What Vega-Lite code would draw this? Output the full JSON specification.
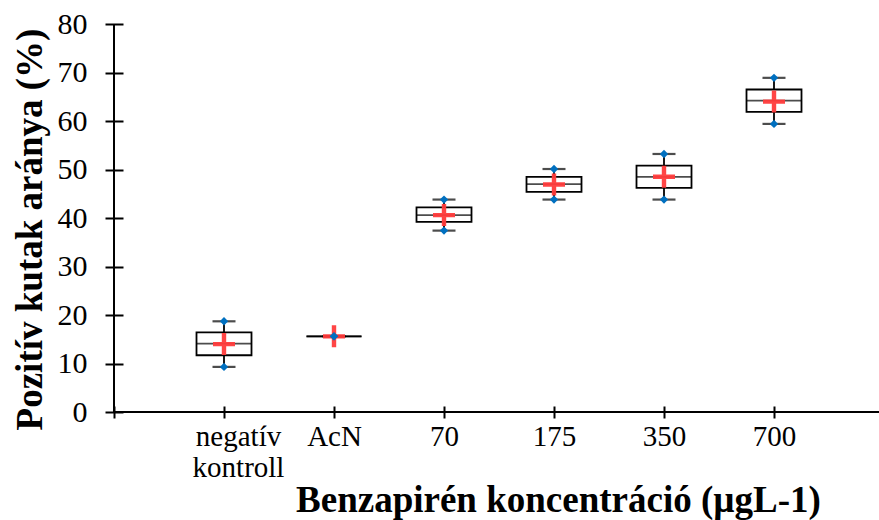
{
  "$schema": "https://vega.github.io/schema/vega-lite/v6.json",
  "width": 765,
  "height": 388,
  "autosize": {"type": "none"},
  "padding": {"left": 114, "top": 24, "right": 0, "bottom": 108},
  "background": "white",
  "config": {"view": {"stroke": null}, "font": "Liberation Serif"},
  "layer": [
    {
      "data": {
        "values": [
          {"cat": "negatív kontroll", "min": 9.3, "q1": 11.7, "median": 14.1, "q3": 16.4, "max": 18.7, "mean": 14.0},
          {"cat": "AcN", "min": 15.6, "q1": 15.6, "median": 15.6, "q3": 15.6, "max": 15.6, "mean": 15.6},
          {"cat": "70", "min": 37.4, "q1": 39.2, "median": 40.6, "q3": 42.2, "max": 43.8, "mean": 40.6},
          {"cat": "175", "min": 43.8, "q1": 45.4, "median": 47.0, "q3": 48.5, "max": 50.1, "mean": 46.9},
          {"cat": "350", "min": 43.8, "q1": 46.2, "median": 48.5, "q3": 50.8, "max": 53.2, "mean": 48.5},
          {"cat": "700", "min": 59.4, "q1": 61.9, "median": 64.2, "q3": 66.5, "max": 68.9, "mean": 64.0}
        ]
      },
      "encoding": {
        "x": {
          "field": "cat",
          "type": "nominal",
          "sort": null,
          "scale": {
            "type": "point",
            "domain": ["", "negatív kontroll", "AcN", "70", "175", "350", "700", " "],
            "range": [0, 770],
            "padding": 0
          },
          "axis": {
            "domain": false,
            "grid": false,
            "offset": -6,
            "tickSize": 12,
            "tickWidth": 2,
            "tickColor": "black",
            "labelAngle": 0,
            "labelFont": "Liberation Serif",
            "labelFontSize": 29,
            "labelColor": "black",
            "labelPadding": 4,
            "labelBaseline": "top",
            "labelLineHeight": 31,
            "labelOverlap": false,
            "labelExpr": "datum.value == 'negatív kontroll' ? ['negatív', 'kontroll'] : datum.label",
            "labelOffset": {"condition": {"test": "datum.value == 'negatív kontroll'", "value": 14}, "value": 0},
            "title": "Benzapirén koncentráció (µgL-1)",
            "titleFont": "Liberation Serif",
            "titleFontSize": 37,
            "titleFontWeight": "bold",
            "titleColor": "black",
            "titleAlign": "center",
            "titleBaseline": "alphabetic",
            "titleX": 444,
            "titleY": 105
          }
        }
      },
      "layer": [
        {
          "mark": {"type": "rule", "color": "black", "strokeWidth": 1.8},
          "encoding": {
            "y": {
              "field": "min",
              "type": "quantitative",
              "scale": {"domain": [0, 80], "nice": false, "zero": true},
              "axis": {
                "values": [0, 10, 20, 30, 40, 50, 60, 70, 80],
                "domain": false,
                "grid": false,
                "offset": -9,
                "tickSize": 18,
                "tickWidth": 2,
                "tickColor": "black",
                "labelFont": "Liberation Serif",
                "labelFontSize": 30,
                "labelColor": "black",
                "labelPadding": 18,
                "title": "Pozitív kutak aránya (%)",
                "titleFont": "Liberation Serif",
                "titleFontSize": 37,
                "titleFontWeight": "bold",
                "titleColor": "black",
                "titleAngle": -90,
                "titleAlign": "center",
                "titleBaseline": "middle",
                "titleX": -93,
                "titleY": 205
              }
            },
            "y2": {"field": "max"}
          }
        },
        {
          "mark": {"type": "bar", "size": 55, "fill": "white", "stroke": "black", "strokeWidth": 1.8},
          "encoding": {"y": {"field": "q1", "type": "quantitative"}, "y2": {"field": "q3"}}
        },
        {
          "mark": {"type": "tick", "size": 55, "thickness": 1.8, "color": "black"},
          "encoding": {"y": {"field": "median", "type": "quantitative"}}
        },
        {
          "mark": {"type": "tick", "size": 23, "thickness": 2.2, "color": "black"},
          "encoding": {"y": {"field": "min", "type": "quantitative"}}
        },
        {
          "mark": {"type": "tick", "size": 23, "thickness": 2.2, "color": "black"},
          "encoding": {"y": {"field": "max", "type": "quantitative"}}
        },
        {
          "mark": {
            "type": "point",
            "shape": "M-1,-0.2H-0.2V-1H0.2V-0.2H1V0.2H0.2V1H-0.2V0.2H-1Z",
            "size": 484,
            "filled": true,
            "color": "#FF3B3B",
            "opacity": 0.95
          },
          "encoding": {"y": {"field": "mean", "type": "quantitative"}}
        },
        {
          "mark": {"type": "point", "shape": "diamond", "size": 70, "filled": true, "color": "#0070C0", "opacity": 1},
          "encoding": {"y": {"field": "min", "type": "quantitative"}}
        },
        {
          "mark": {"type": "point", "shape": "diamond", "size": 70, "filled": true, "color": "#0070C0", "opacity": 1},
          "encoding": {"y": {"field": "max", "type": "quantitative"}}
        }
      ]
    },
    {
      "data": {"values": [{}]},
      "mark": {"type": "rule", "color": "black", "strokeWidth": 2},
      "encoding": {"y": {"datum": 0, "type": "quantitative"}}
    },
    {
      "data": {"values": [{}]},
      "mark": {"type": "rule", "color": "black", "strokeWidth": 2},
      "encoding": {"x": {"datum": "", "type": "nominal"}}
    }
  ]
}
